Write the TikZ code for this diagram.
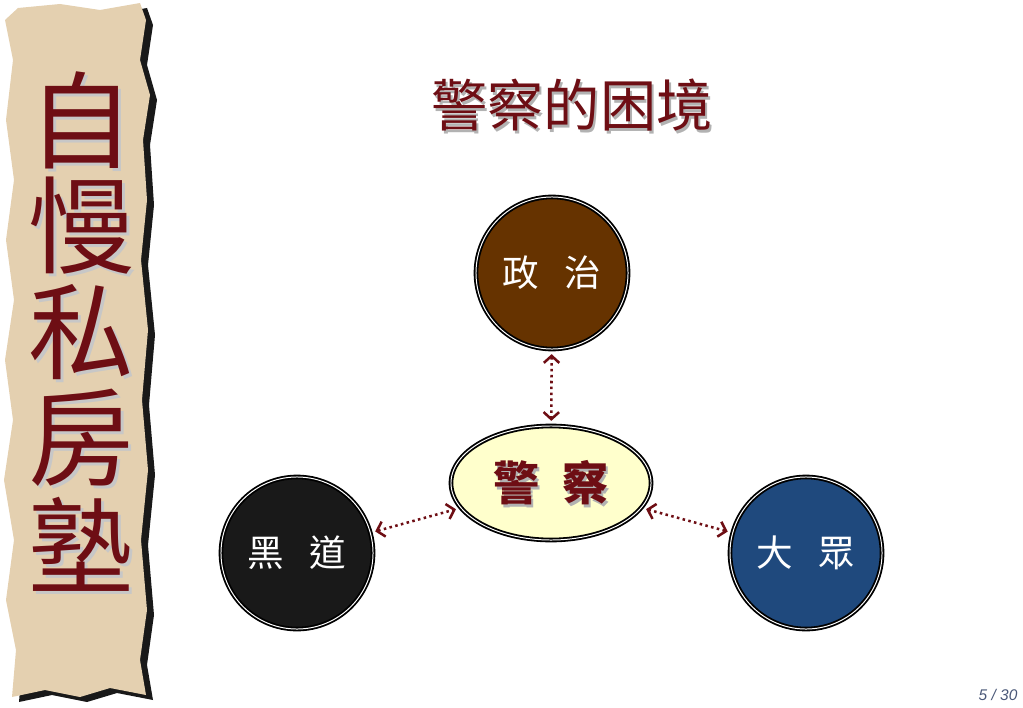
\documentclass[tikz,border=0pt]{standalone}
\usepackage{fontspec}
\newfontfamily\cjk{Noto Sans CJK TC}
\setsansfont{Liberation Sans}
\usetikzlibrary{arrows.meta,shapes,positioning}

\definecolor{inkred}{HTML}{6E0E14}
\definecolor{parch}{HTML}{E4D0B0}
\definecolor{clay}{HTML}{663300}
\definecolor{navy}{HTML}{1F497D}
\definecolor{cream}{HTML}{FFFFCC}
\definecolor{pagenum}{HTML}{4A5878}

\newcommand{\parchedge}{(18,8) -- (60,4) -- (100,10) -- (140,3) -- (146,20) -- (140,60) -- (150,95) -- (143,140) -- (147,200) -- (141,260) -- (148,330) -- (142,400) -- (148,470) -- (141,540) -- (147,610) -- (140,660) -- (146,695) -- (110,688) -- (80,697) -- (45,690) -- (12,697) -- (16,650) -- (6,600) -- (14,540) -- (4,480) -- (13,420) -- (5,360) -- (14,300) -- (6,240) -- (14,180) -- (6,120) -- (13,60) -- (5,20) -- cycle}

\tikzset{
  ring/.style={circle, draw=black, line width=1.3pt, double=white,
    double distance=0.7pt, minimum size=3.8cm, text=white,
    font=\cjk\fontsize{26}{26}\selectfont},
  link/.style={inkred, line width=1.8pt, dash pattern=on 1.8pt off 2.4pt,
    {Straight Barb[length=5pt,width=11pt]}-{Straight Barb[length=5pt,width=11pt]},
    shorten >=3pt, shorten <=3pt},
  bannerchar/.style={font=\cjk\fontsize{75}{75}\selectfont, inner sep=0pt}
}

\begin{document}
\begin{tikzpicture}[x=0.025cm,y=-0.025cm]
\useasboundingbox (0,0) rectangle (1023,708);

% parchment banner
\fill[black!90, shift={(7,5)}] \parchedge;
\fill[parch] \parchedge;

\foreach \ch [count=\i] in {自,慢,私,房,塾} {
  \node[bannerchar, text=black!22] at (84,{123+106*(\i-1)}) {\ch};
  \node[bannerchar, text=inkred] (ban\i) at (81,{120+106*(\i-1)}) {\ch};
}

% title
\node[font=\cjk\fontsize{40}{40}\selectfont, text=black!30] at (574,108) {警察的困境};
\node[font=\cjk\fontsize{40}{40}\selectfont, text=inkred] (title) at (572,105) {警察的困境};

% the four parties
\node[ring, fill=clay] (zz) at (552,273) {政\hspace{0.7em}治};
\node[ring, fill=black!90] (hd) at (297,553) {黑\hspace{0.7em}道};
\node[ring, fill=navy] (dz) at (806,553) {大\hspace{0.7em}眾};

\node[ellipse, draw=black, line width=1.3pt, double=white, double distance=0.7pt,
    fill=cream, minimum width=5cm, minimum height=2.85cm] (jc) at (551,483) {};
\node[font=\cjk\bfseries\fontsize{33}{33}\selectfont, text=black!30] at (553,486) {警\hspace{0.5em}察};
\node[font=\cjk\bfseries\fontsize{33}{33}\selectfont, text=inkred] at (jc.center) {警\hspace{0.5em}察};

\draw[link] (zz) -- (jc);
\draw[link] (hd) -- (jc);
\draw[link] (dz) -- (jc);

% page number
\node[font=\sffamily\itshape\fontsize{11}{11}\selectfont, text=pagenum] (page) at (998,695) {5 / 30};

\end{tikzpicture}
\end{document}
